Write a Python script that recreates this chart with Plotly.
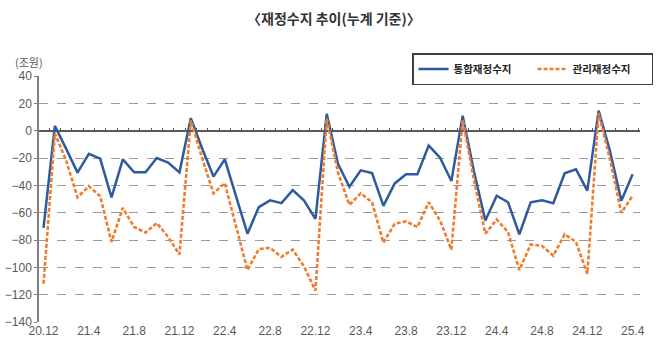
import plotly.graph_objects as go

tick_labels = ["20.12", "21.4", "21.8", "21.12", "22.4", "22.8", "22.12",
               "23.4", "23.8", "23.12", "24.4", "24.8", "24.12", "25.4"]

# monthly cumulative balances (조원), 2020.12 ~ 2025.4
integrated = [-71.2, 3.5, -13.3, -30.7, -17.0, -20.5, -48.8, -21.0, -30.4, -30.4, -20.0, -23.4, -30.5,
              9.2, -13.0, -33.6, -21.0, -47.8, -75.4, -56.0, -51.0, -53.0, -43.5, -51.2, -64.6,
              12.3, -24.5, -41.0, -29.0, -31.0, -55.0, -38.6, -31.9, -31.9, -10.9, -19.8, -36.8,
              10.9, -30.0, -65.7, -47.6, -52.4, -75.8, -52.4, -51.0, -53.1, -31.2, -28.3, -43.9,
              14.7, -15.0, -51.2, -31.9]
managed = [-112.0, -2.0, -22.0, -48.8, -40.6, -48.0, -81.4, -56.5, -70.5, -74.6, -67.6, -77.8, -90.6,
           7.5, -20.0, -45.9, -38.4, -69.8, -102.0, -86.7, -85.7, -92.3, -87.0, -99.5, -117.0,
           9.0, -30.9, -54.3, -45.9, -52.4, -81.9, -68.1, -66.4, -70.5, -52.4, -65.7, -87.0,
           8.0, -36.3, -75.4, -65.0, -74.2, -102.0, -83.3, -84.3, -91.5, -75.8, -81.4, -104.8,
           12.8, -21.0, -60.1, -47.6]

n = len(integrated)
xs = list(range(n))
tick_pos = [i * 4 for i in range(len(tick_labels))]

BLUE = "#2F5A9E"
ORANGE = "#ED7D31"
GRAY = "#595959"
FONT = "Liberation Sans, Arial, sans-serif"
KFONT = "Noto Sans CJK KR, sans-serif"

L, R, T, B = 39, 30, 76, 33
PW, PH = 670 - L - R, 355 - T - B

fig = go.Figure()
fig.add_trace(go.Scatter(x=xs, y=integrated, mode="lines", name="통합재정수지",
                         line=dict(color=BLUE, width=2.5)))
fig.add_trace(go.Scatter(x=xs, y=managed, mode="lines", name="관리재정수지",
                         line=dict(color=ORANGE, width=2.6, dash="4px,2px")))
# invisible helper trace for the boundary tick axis on the zero line
fig.add_trace(go.Scatter(x=[xs[0], xs[-1]], y=[0, 0], xaxis="x2", mode="lines",
                         line=dict(width=0), showlegend=False, hoverinfo="skip"))

fig.update_layout(
    width=670, height=355,
    margin=dict(l=L, r=R, t=T, b=B, autoexpand=False),
    paper_bgcolor="white", plot_bgcolor="white",
    font=dict(family=FONT, size=12, color=GRAY),
    showlegend=True,
    legend=dict(orientation="h", x=(653 - L) / PW, xanchor="right", y=(355 - B - 53) / PH, yanchor="top",
                bordercolor="#404040", borderwidth=1.5, bgcolor="white",
                font=dict(family=KFONT, size=10.5, color="#222222", weight="bold"),
                entrywidth=74, itemwidth=30, tracegroupgap=0),
    xaxis=dict(range=[-0.4, n - 0.35], tickmode="array", tickvals=tick_pos, ticktext=tick_labels,
               showgrid=False, zeroline=False, showline=False, ticks="",
               tickfont=dict(family=FONT, size=12, color=GRAY)),
    xaxis2=dict(overlaying="x", matches="x", side="top", anchor="free", position=140 / 180,
                showline=False, ticks="outside", ticklen=3, tickwidth=1, tickcolor="#595959",
                tickmode="array", tickvals=[i + 0.5 for i in range(-1, n)],
                showticklabels=False, showgrid=False, zeroline=False),
    yaxis=dict(range=[-140, 40], dtick=20, showgrid=True, gridcolor="#9a9a9a", gridwidth=1,
               griddash="dash", zeroline=True, zerolinecolor="#595959", zerolinewidth=1.5,
               showline=True, linecolor="#7f7f7f", linewidth=1.5, ticks="outside", ticklen=3,
               tickcolor="#7f7f7f", tickfont=dict(family=FONT, size=12, color=GRAY)),
    annotations=[
        dict(text="〈재정수지 추이(누계 기준)〉", xref="paper", yref="paper", x=(334 - L) / PW,
             y=(355 - B - 18) / PH, xanchor="center", yanchor="middle", showarrow=False,
             font=dict(family=KFONT, size=14, color="#333333", weight="bold")),
        dict(text="(조원)", xref="paper", yref="paper", x=(13 - L) / PW, y=(355 - B - 62) / PH,
             xanchor="left", yanchor="middle", showarrow=False,
             font=dict(family=KFONT, size=11, color=GRAY)),
    ],
)

fig.write_html("out.html", config={"displayModeBar": False},
               post_script="document.body.style.margin='0';")
